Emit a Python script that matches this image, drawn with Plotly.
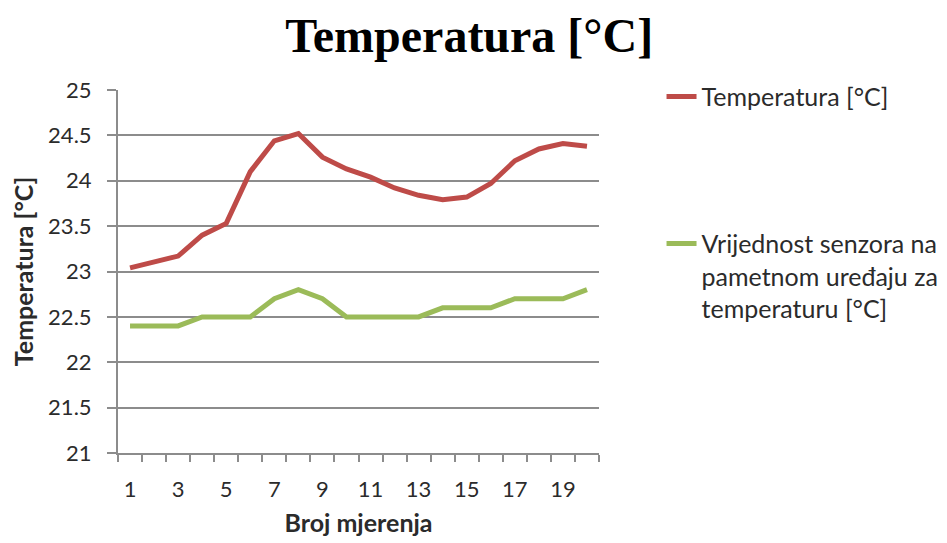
import plotly.graph_objects as go

# Broj mjerenja (measurement index)
mjerenja = list(range(1, 21))

# Temperatura [°C] (reference thermometer)
temperatura = [23.04, 23.11, 23.17, 23.40, 23.53, 24.10, 24.44, 24.52, 24.26, 24.13,
               24.04, 23.92, 23.84, 23.79, 23.82, 23.97, 24.22, 24.35, 24.41, 24.38]

# Vrijednost senzora na pametnom uređaju
senzor = [22.4, 22.4, 22.4, 22.5, 22.5, 22.5, 22.7, 22.8, 22.7, 22.5,
          22.5, 22.5, 22.5, 22.6, 22.6, 22.6, 22.7, 22.7, 22.7, 22.8]

x_labels = [1, 3, 5, 7, 9, 11, 13, 15, 17, 19]
y_ticks = [21, 21.5, 22, 22.5, 23, 23.5, 24, 24.5, 25]

grid = '#8c8c8c'
txt = '#2b2b2b'
font_fam = 'Lato, "Open Sans", sans-serif'

fig = go.Figure()
fig.add_trace(go.Scatter(
    x=mjerenja, y=temperatura, mode='lines', name='Temperatura [°C]',
    line=dict(color='#BE4B48', width=5), legend='legend', showlegend=True
))
fig.add_trace(go.Scatter(
    x=mjerenja, y=senzor, mode='lines',
    name='Vrijednost senzora na<br>pametnom uređaju za<br>temperaturu [°C]',
    line=dict(color='#9BBB59', width=5), legend='legend2', showlegend=True
))

# page body adds an 8px offset, so margins are shifted to compensate
fig.update_layout(
    width=947, height=543,
    margin=dict(l=110, r=353, t=82, b=98),
    showlegend=True,
    paper_bgcolor='white', plot_bgcolor='white',
    font=dict(family=font_fam, color=txt),
    title=dict(text='<b>Temperatura [°C]</b>', x=0.487, xanchor='center',
               y=0.95, yanchor='middle',
               font=dict(family='"Liberation Serif", "Times New Roman", serif',
                         size=48, color='black')),
    legend=dict(x=1.13, y=1.045, xanchor='left', yanchor='top',
                font=dict(size=25, color=txt), bgcolor='rgba(0,0,0,0)'),
    legend2=dict(x=1.13, y=0.64, xanchor='left', yanchor='top', valign='top',
                 font=dict(size=25, color=txt), bgcolor='rgba(0,0,0,0)'),
)

fig.update_xaxes(
    range=[0.5, 20.5], tickmode='array', tickvals=x_labels,
    ticks='', showgrid=False, zeroline=False,
    showline=True, linecolor=grid, linewidth=2,
    tickfont=dict(size=22, color=txt), ticklabelstandoff=16,
    minor=dict(ticks='outside', tick0=0.5, dtick=1, ticklen=7,
               tickwidth=2, tickcolor=grid, showgrid=False),
    title=dict(text='<b>Broj mjerenja</b>', font=dict(size=25, color=txt), standoff=13),
)
fig.update_yaxes(
    range=[21, 25], tickmode='array', tickvals=y_ticks,
    ticks='outside', ticklen=9, tickwidth=2, tickcolor=grid,
    showgrid=True, gridcolor=grid, gridwidth=2, zeroline=False,
    showline=True, linecolor=grid, linewidth=2,
    tickfont=dict(size=22, color=txt), ticklabelstandoff=11,
    title=dict(text='<b>Temperatura [°C]</b>', font=dict(size=25, color=txt), standoff=12),
)

fig.write_html("out.html")
